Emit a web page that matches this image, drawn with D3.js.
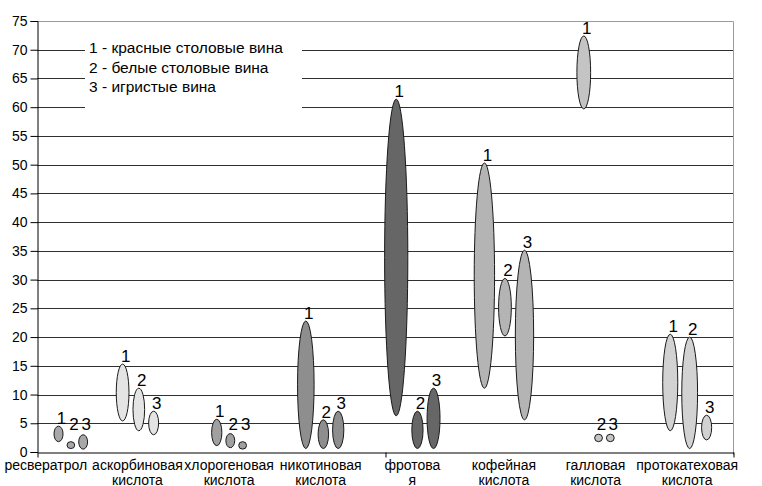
<!DOCTYPE html>
<html>
<head>
<meta charset="utf-8">
<script src="https://cdn.jsdelivr.net/npm/d3@7/dist/d3.min.js"></script>
<style>
  html, body { margin: 0; padding: 0; background: #fff; }
  svg { display: block; font-family: "Liberation Sans", Arial, sans-serif; }
</style>
</head>
<body>
<svg id="chart" width="762" height="486"></svg>
<script>
// Categories (acids); "\n" splits the axis label into lines
const categories = [
  "ресвератрол",
  "аскорбиновая\nкислота",
  "хлорогеновая\nкислота",
  "никотиновая\nкислота",
  "фротова\nя",
  "кофейная\nкислота",
  "галловая\nкислота",
  "протокатеховая\nкислота"
];

const seriesKeys = ["1", "2", "3"];
const legendLabels = [
  "1 - красные столовые вина",
  "2 - белые столовые вина",
  "3 - игристые вина"
];

// Concentration ranges (min .. max) per wine type
const redMin   = [1.8, 5.4, 1.1, 0.6, 6.3, 11.1, 59.7, 3.7];
const redMax   = [4.5, 15.3, 5.7, 22.8, 61.4, 50.3, 72.4, 20.5];
const whiteMin = [0.6, 3.7, 0.75, 0.6, 0.6, 20.2, 1.8, 0.6];
const whiteMax = [1.8, 11.1, 3.2, 5.6, 7.1, 30.2, 3.1, 20.0];
const sparkMin = [0.5, 3.0, 0.5, 0.6, 0.6, 5.6, 1.8, 2.1];
const sparkMax = [3.0, 7.1, 1.8, 7.1, 11.1, 35.1, 3.1, 6.4];

const yTicks = d3.range(0, 80, 5);

const svg = d3.select("#chart");
const plot = { left: 37, right: 733, top: 21, bottom: 452 };

const y = d3.scaleLinear().domain([0, 75]).range([plot.bottom, plot.top]);
const x = d3.scaleBand().domain(categories).range([0, plot.right]);
const widthScale = d3.scaleSqrt().domain([0, 60]).range([5, 24]);
const fillScale = d3.scaleOrdinal()
  .domain(categories)
  .range(["#a8a8a8", "#e4e4e4", "#a0a0a0", "#8e8e8e", "#666666", "#b4b4b4", "#c4c4c4", "#d2d2d2"]);

// gridlines
svg.append("g")
  .selectAll("line")
  .data(yTicks.filter(d => d > 0 && d < 75))
  .join("line")
  .attr("x1", plot.left).attr("x2", plot.right)
  .attr("y1", d => Math.round(y(d)) + 0.5).attr("y2", d => Math.round(y(d)) + 0.5)
  .attr("stroke", "#303030");

// plot frame: top and right edges
svg.append("path")
  .attr("d", `M${plot.left},${Math.round(y(75)) + 0.5}H${plot.right + 0.5}V${plot.bottom + 3}`)
  .attr("fill", "none").attr("stroke", "#9a9a9a");

// legend panel
const legend = svg.append("g");
legend.append("rect")
  .attr("x", 85).attr("y", 31).attr("width", 217).attr("height", 82)
  .attr("fill", "#fff");
legend.selectAll("text")
  .data(legendLabels)
  .join("text")
  .attr("x", 89)
  .attr("y", (d, i) => 53 + i * 19.5)
  .attr("font-size", 15.5)
  .attr("fill", "#000")
  .text(d => d);

// y axis
const yAxis = svg.append("g")
  .attr("transform", `translate(${plot.left + 0.5},0)`)
  .call(d3.axisLeft(y).tickValues(yTicks).tickSize(7).tickPadding(3));
yAxis.select(".domain").attr("stroke", "#000");
yAxis.selectAll(".tick line").attr("stroke", "#000");
yAxis.selectAll(".tick text")
  .attr("font-size", 14)
  .attr("font-family", "Liberation Sans, Arial, sans-serif")
  .attr("fill", "#000");

// x axis line with its three tick marks
const xFrame = d3.scaleLinear().domain([0, 2]).range([plot.left, plot.right]);
const xAxis = svg.append("g")
  .attr("transform", `translate(0.5,${plot.bottom + 0.5})`)
  .call(d3.axisBottom(xFrame).ticks(2).tickSize(5).tickSizeOuter(0).tickFormat(""));
xAxis.select(".domain").attr("stroke", "#000");
xAxis.selectAll(".tick line").attr("stroke", "#000");

// category labels
const catLabels = svg.append("g")
  .selectAll("text")
  .data(categories)
  .join("text")
  .attr("text-anchor", "middle")
  .attr("font-size", 14)
  .attr("fill", "#000")
  .attr("transform", d => `translate(${x(d) + x.bandwidth() / 2},470)`);
catLabels.selectAll("tspan")
  .data(d => d.split("\n"))
  .join("tspan")
  .attr("x", 0)
  .attr("y", (d, i) => i * 14.5)
  .text(d => d);

// build range marks
const ranges = categories.map((c, i) => {
  const items = [
    { key: seriesKeys[0], min: redMin[i], max: redMax[i] },
    { key: seriesKeys[1], min: whiteMin[i], max: whiteMax[i] },
    { key: seriesKeys[2], min: sparkMin[i], max: sparkMax[i] }
  ];
  items.forEach(d => { d.w = widthScale(d.max - d.min); d.cat = c; });
  // pack the three marks side by side, centred in the category band,
  // but keep them clear of the value axis
  const gap = 4;
  const total = d3.sum(items, d => d.w) + gap * (items.length - 1);
  let cursor = Math.max(x(c) + x.bandwidth() / 2 - total / 2, plot.left + 17);
  items.forEach(d => { d.cx = cursor + d.w / 2; cursor += d.w + gap; });
  return items;
}).flat();

svg.append("g")
  .selectAll("ellipse")
  .data(ranges)
  .join("ellipse")
  .attr("cx", d => d.cx)
  .attr("cy", d => (y(d.min) + y(d.max)) / 2)
  .attr("rx", d => d.w / 2)
  .attr("ry", d => (y(d.min) - y(d.max)) / 2)
  .attr("fill", d => fillScale(d.cat))
  .attr("stroke", "#1a1a1a")
  .attr("stroke-width", 1);

svg.append("g")
  .selectAll("text")
  .data(ranges)
  .join("text")
  .attr("x", d => d.cx + 3)
  .attr("y", d => Math.min(y(d.max) - 2, y(0) - 22))
  .attr("text-anchor", "middle")
  .attr("font-size", 17)
  .attr("fill", "#000")
  .text(d => d.key);
</script>
</body>
</html>
